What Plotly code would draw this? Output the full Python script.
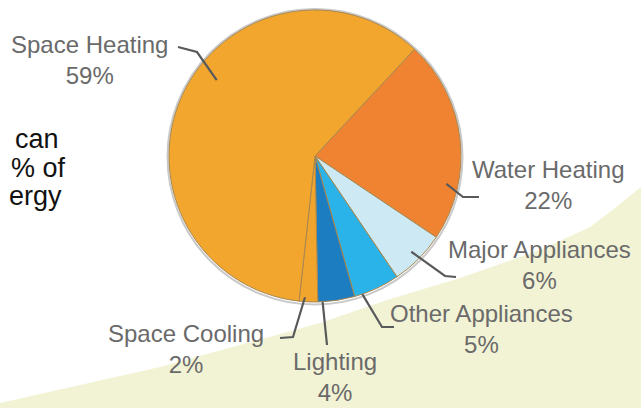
import math
import plotly.graph_objects as go

# ---- data ----
categories = ["Water Heating", "Major Appliances", "Other Appliances",
              "Lighting", "Space Cooling", "Space Heating"]
shares = [22, 6, 5, 4, 2, 59]
slice_colors = ["#F08332", "#CDEAF4", "#2AB3E8", "#1C7DC1", "#F2A52D", "#F3A62E"]
side_lines = ["can", "% of", "ergy"]

W, H = 641, 408
CX, CY, R = 315, 156, 146
ROTATION = 43

def fx(px):
    return px / W

def fy(py):
    return 1 - py / H

fig = go.Figure()

# light background sweep (decoration)
bg_pts = [(0, 403), (160, 367), (320, 323), (387, 300), (460, 278),
          (540, 250), (590, 227), (615, 208), (641, 187)]
path = "M %f,%f " % (fx(-5), fy(410))
for px, py in bg_pts:
    path += "L %f,%f " % (fx(px), fy(py))
path += "L %f,%f L %f,%f Z" % (fx(645), fy(184), fx(645), fy(410))
fig.add_shape(type="path", path=path, xref="paper", yref="paper",
              fillcolor="#F2F3D5", line=dict(width=0), layer="below")

# soft shadow ring around pie
fig.add_shape(type="circle", xref="paper", yref="paper",
              x0=fx(CX - R - 1.5), x1=fx(CX + R + 1.5),
              y0=fy(CY + R + 2.5), y1=fy(CY - R - 1),
              line=dict(color="#C9C9C9", width=2), fillcolor="rgba(0,0,0,0)",
              layer="below")

fig.add_trace(go.Pie(
    labels=categories,
    values=shares,
    sort=False,
    direction="clockwise",
    rotation=ROTATION,
    marker=dict(colors=slice_colors, line=dict(color="#A8874F", width=1)),
    textinfo="none",
    hoverinfo="label+value",
    showlegend=False,
    domain=dict(x=[fx(CX - R), fx(CX + R)], y=[fy(CY + R), fy(CY - R)]),
))

# ---- label layout (positions only) ----
label_layout = {
    "Space Heating":    dict(tx=89,  ty=60,  frac=0.56, rf=0.85, elbow=(197, 52), end=(178, 47)),
    "Water Heating":    dict(tx=548, ty=185, frac=0.73, rf=0.92, elbow=(463, 197), end=(479, 197)),
    "Major Appliances": dict(tx=539, ty=265, frac=0.50, rf=0.93, elbow=(445, 276), end=(456, 277)),
    "Other Appliances": dict(tx=481, ty=329, frac=0.83, rf=1.00, elbow=(382, 327), end=(394, 327)),
    "Lighting":         dict(tx=335, ty=377, frac=0.87, rf=1.00, elbow=(327, 345), end=(327, 345)),
    "Space Cooling":    dict(tx=186, ty=349, frac=0.70, rf=0.97, elbow=(293, 337), end=(280, 338)),
}

total = sum(shares)
angle = ROTATION
for cat, val in zip(categories, shares):
    span = val / total * 360
    L = label_layout[cat]
    a = math.radians(angle + L["frac"] * span)
    sx = CX + L["rf"] * R * math.sin(a)
    sy = CY - L["rf"] * R * math.cos(a)
    ex, ey = L["elbow"]
    nx, ny = L["end"]
    fig.add_shape(type="path", xref="paper", yref="paper",
                  path="M %f,%f L %f,%f L %f,%f" % (fx(sx), fy(sy), fx(ex), fy(ey), fx(nx), fy(ny)),
                  line=dict(color="#58595B", width=2.2), layer="above")
    fig.add_annotation(x=fx(L["tx"]), y=fy(L["ty"]), xref="paper", yref="paper",
                       text="%s<br>%d%%" % (cat, val), showarrow=False,
                       xanchor="center", yanchor="middle", align="center",
                       font=dict(family="Liberation Sans Narrow, Arial Narrow, sans-serif",
                                 size=24, color="#6A6A6A"))
    angle += span

# partial slide text at left edge
side_pos = [(61, 139), (68, 168), (64, 196)]
for t, (rx, cy) in zip(side_lines, side_pos):
    fig.add_annotation(x=fx(rx), y=fy(cy), xref="paper", yref="paper", text=t,
                       showarrow=False, xanchor="right", yanchor="middle",
                       font=dict(family="Liberation Sans Narrow, Arial Narrow, sans-serif",
                                 size=27, color="#111111"))

fig.update_layout(width=W, height=H, margin=dict(l=0, r=0, t=0, b=0),
                  paper_bgcolor="white", plot_bgcolor="white")

fig.write_html("out.html")
